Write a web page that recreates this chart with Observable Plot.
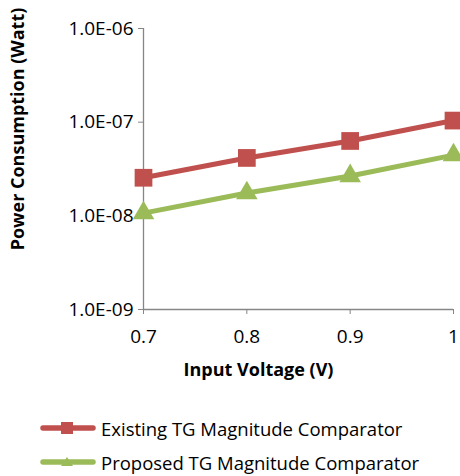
<!DOCTYPE html>
<html>
<head>
<meta charset="utf-8">
<script src="https://cdn.jsdelivr.net/npm/d3@7"></script>
<script src="https://cdn.jsdelivr.net/npm/@observablehq/plot@0.6"></script>
<style>
  body { margin: 0; background: #fff; font-family: "Open Sans", sans-serif; }
  #wrap { width: 460px; height: 476px; position: relative; }
  .legend { position: absolute; left: 40px; top: 411px; }
  .row { display: flex; align-items: center; height: 34px; font-size: 18.5px; color: #000; }
  .row svg { margin-right: 5px; }
</style>
</head>
<body>
<div id="wrap"></div>
<script>
const voltages = [0.7, 0.8, 0.9, 1.0];
const seriesNames = ["Existing TG Magnitude Comparator", "Proposed TG Magnitude Comparator"];
const existingPower = [2.55e-8, 4.15e-8, 6.3e-8, 1.04e-7];
const proposedPower = [1.07e-8, 1.75e-8, 2.66e-8, 4.45e-8];
const seriesColors = ["#C0504D", "#9BBB59"];
const seriesSymbols = ["square", "triangle"];
const xTicks = [0.7, 0.8, 0.9, 1.0];
const xTickLabels = ["0.7", "0.8", "0.9", "1"];
const yTicks = [1e-9, 1e-8, 1e-7, 1e-6];
const yTickLabels = ["1.0E-09", "1.0E-08", "1.0E-07", "1.0E-06"];
const xTitle = "Input Voltage (V)";
const yTitle = "Power Consumption (Watt)";

const data = [];
voltages.forEach((v, i) => {
  data.push({series: seriesNames[0], x: v, y: existingPower[i]});
  data.push({series: seriesNames[1], x: v, y: proposedPower[i]});
});

const axisColor = "#868686";
const chart = Plot.plot({
  width: 460,
  height: 390,
  marginLeft: 143,
  marginRight: 7,
  marginTop: 28,
  marginBottom: 81,
  style: {fontFamily: "Open Sans, sans-serif", fontSize: "18px", color: "#000", background: "#fff"},
  x: {domain: [xTicks[0], xTicks[xTicks.length - 1]]},
  y: {type: "log", domain: [yTicks[0], yTicks[yTicks.length - 1]]},
  color: {domain: seriesNames, range: seriesColors},
  symbol: {domain: seriesNames, range: seriesSymbols},
  marks: [
    Plot.ruleX([xTicks[0]], {stroke: axisColor, strokeWidth: 1.3}),
    Plot.ruleY([yTicks[0]], {stroke: axisColor, strokeWidth: 1.3}),
    Plot.axisY({ticks: yTicks, tickFormat: (d) => yTickLabels[yTicks.indexOf(d)], tickSize: 5, tickPadding: 5, stroke: axisColor, label: null, fontSize: 19}),
    Plot.axisX({ticks: xTicks, tickFormat: d => xTickLabels[xTicks.indexOf(d)], tickSize: 5, tickPadding: 15, stroke: axisColor, label: null, fontSize: 19}),
    Plot.line(data, {x: "x", y: "y", z: "series", stroke: "series", strokeWidth: 5}),
    Plot.dot(data.filter(d => d.series === seriesNames[0]), {x: "x", y: "y", symbol: "series", fill: "series", r: 10}),
    Plot.dot(data.filter(d => d.series === seriesNames[1]), {x: "x", y: "y", symbol: "series", fill: "series", r: 8}),
    Plot.text([yTitle], {frameAnchor: "left", rotate: -90, textAnchor: "middle", dx: -125, dy: -40, fontWeight: "bold", fontSize: 18}),
    Plot.text([xTitle], {frameAnchor: "bottom", textAnchor: "middle", dx: -40, dy: 66, fontWeight: "bold", fontSize: 18})
  ]
});

const wrap = document.getElementById("wrap");
wrap.appendChild(chart);

const legend = document.createElement("div");
legend.className = "legend";
seriesNames.forEach((name, i) => {
  const row = document.createElement("div");
  row.className = "row";
  const marker = seriesSymbols[i] === "square"
    ? `<rect x="21" y="4" width="12" height="12" fill="${seriesColors[i]}"/>`
    : `<path d="M27 5 L33 14 L21 14 Z" fill="${seriesColors[i]}"/>`;
  row.innerHTML = `<svg width="56" height="20"><line x1="3" y1="10" x2="53" y2="10" stroke="${seriesColors[i]}" stroke-width="5.5" stroke-linecap="round"/>${marker}</svg><span>${name}</span>`;
  legend.appendChild(row);
});
wrap.appendChild(legend);
</script>
</body>
</html>
